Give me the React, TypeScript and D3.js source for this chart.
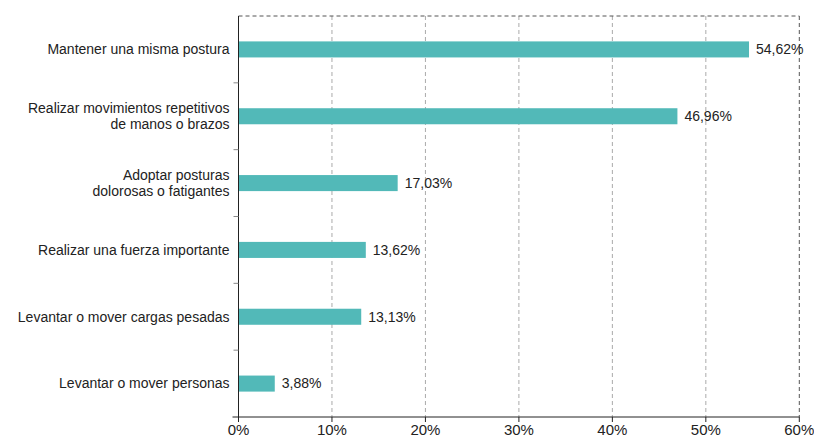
import React from "react";
import * as d3 from "d3";

const categories: string[][] = [
  ["Mantener una misma postura"],
  ["Realizar movimientos repetitivos", "de manos o brazos"],
  ["Adoptar posturas", "dolorosas o fatigantes"],
  ["Realizar una fuerza importante"],
  ["Levantar o mover cargas pesadas"],
  ["Levantar o mover personas"],
];
const values: number[] = [54.62, 46.96, 17.03, 13.62, 13.13, 3.88];
const xTicks: number[] = [0, 10, 20, 30, 40, 50, 60];

const W = 814;
const H = 438;
const margin = { left: 238.5, right: 14.7, top: 16, bottom: 21 };
const FONT = "'Liberation Sans', Arial, Helvetica, sans-serif";

export default function App() {
  const x = d3.scaleLinear().domain([0, 60]).range([margin.left, W - margin.right]);
  const idx = categories.map((_, i) => String(i));
  const y = d3
    .scaleBand()
    .domain(idx)
    .range([margin.top, H - margin.bottom])
    .paddingInner(0.76)
    .paddingOuter(0.38);
  const step = y.step();
  const y0 = margin.top;
  const y1 = H - margin.bottom;
  const fmt = (v: number) => v.toFixed(2).replace(".", ",") + "%";

  return (
    <svg
      width={W}
      height={H}
      style={{ position: "absolute", left: 0, top: 0, fontFamily: FONT }}
    >
      {xTicks.slice(1).map((t) => (
        <line
          key={"g" + t}
          x1={x(t)}
          x2={x(t)}
          y1={y0}
          y2={y1}
          stroke={t === 60 ? "#555" : "#aaa"}
          strokeWidth={1}
          strokeDasharray="4,3"
        />
      ))}
      <line
        x1={x(0)}
        x2={x(60)}
        y1={y0}
        y2={y0}
        stroke="#555"
        strokeDasharray="4,3"
      />
      {values.map((v, i) => (
        <rect
          key={"b" + i}
          x={x(0)}
          y={y(String(i))!}
          width={x(v) - x(0)}
          height={y.bandwidth()}
          fill="#52b9b8"
        />
      ))}
      {values.map((v, i) => (
        <text
          key={"v" + i}
          x={x(v) + 7}
          y={y(String(i))! + y.bandwidth() / 2}
          dy="0.35em"
          fontSize={14}
          fill="#222"
        >
          {fmt(v)}
        </text>
      ))}
      <line x1={x(0)} x2={x(0)} y1={y0} y2={y1} stroke="#222" />
      {d3.range(1, categories.length).map((k) => (
        <line
          key={"lt" + k}
          x1={x(0) - 5}
          x2={x(0)}
          y1={y0 + k * step}
          y2={y0 + k * step}
          stroke="#888"
        />
      ))}
      {categories.map((lines, i) => {
        const cy = y(String(i))! + y.bandwidth() / 2;
        const lh = 16;
        const start = cy - ((lines.length - 1) * lh) / 2;
        return (
          <text
            key={"c" + i}
            x={x(0) - 9}
            textAnchor="end"
            fontSize={14}
            fill="#222"
          >
            {lines.map((l, j) => (
              <tspan key={j} x={x(0) - 9} y={start + j * lh} dy="0.35em">
                {l}
              </tspan>
            ))}
          </text>
        );
      })}
      <line x1={x(0) - 6} x2={x(60)} y1={y1} y2={y1} stroke="#222" />
      {xTicks.map((t) => (
        <g key={"xt" + t}>
          <line x1={x(t)} x2={x(t)} y1={y1} y2={y1 + 5} stroke="#222" />
          <text
            x={x(t)}
            y={y1 + 18}
            textAnchor="middle"
            fontSize={15}
            fill="#222"
          >
            {t + "%"}
          </text>
        </g>
      ))}
    </svg>
  );
}
